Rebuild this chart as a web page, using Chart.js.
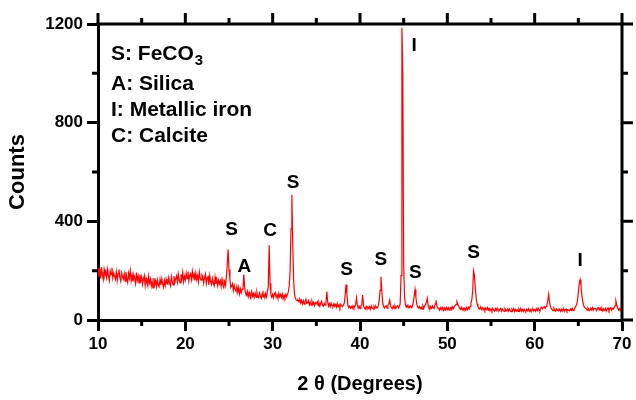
<!DOCTYPE html>
<html>
<head>
<meta charset="utf-8">
<script src="https://cdn.jsdelivr.net/npm/chart.js@4.4.0/dist/chart.umd.min.js"></script>
<style>
  html, body { margin: 0; padding: 0; background: #fff; }
</style>
</head>
<body>
<canvas id="myChart" width="636" height="400"></canvas>
<script>
// scan grid: 10.0 .. 70.0 deg, 0.1 deg step
var angleStart = 10;
var angleStep = 0.1;

// counts, one row per degree (x.0 .. x.9)
var counts = [
  212,176,198,168,215,183,164,205,180,196, // 10
  172,206,180,160,199,184,212,170,190,178, // 11
  165,196,160,189,205,172,158,192,176,166, // 12
  188,158,195,168,152,190,170,200,160,182, // 13
  155,185,168,148,192,160,178,150,184,160, // 14
  176,145,165,180,140,170,150,138,178,150, // 15
  166,138,156,130,170,144,160,135,162,142, // 16
  135,164,142,168,146,132,160,140,166,148, // 17
  145,172,150,138,176,156,142,178,152,168, // 18
  180,154,186,160,150,184,166,194,156,178, // 19
  162,190,168,196,158,182,188,164,198,170, // 20
  186,160,190,164,180,155,194,170,162,184, // 21
  178,150,172,186,148,170,176,142,180,156, // 22
  144,168,150,138,174,146,164,140,162,146, // 23
  160,136,165,142,132,156,140,175,225,286, // 24
  205,165,132,138,148,120,140,124,116,136, // 25
  112,132,106,126,110,124,130,185,128,108, // 26
  100,116,94,112,98,90,114,96,108,92,      // 27
  108,92,112,95,90,109,96,88,110,94,       // 28
  104,90,108,94,112,138,303,148,102,92,    // 29
  104,90,107,112,92,102,88,108,94,104,     // 30
  92,106,86,100,90,104,94,104,115,140,     // 31
  200,370,508,310,160,105,88,82,78,80,     // 32
  74,86,70,80,66,78,64,75,84,68,           // 33
  70,78,62,72,60,76,64,72,58,70,           // 34
  66,74,58,70,56,68,76,60,56,68,           // 35
  60,70,115,74,56,66,54,68,58,55,          // 36
  66,55,63,52,67,54,62,50,64,56,           // 37
  54,62,68,100,144,105,62,50,57,48,        // 38
  55,47,58,49,56,62,90,60,48,56,           // 39
  46,57,62,101,60,48,45,55,47,53,          // 40
  46,54,44,57,48,45,55,47,58,49,           // 41
  50,58,80,120,175,118,70,55,48,55,        // 42
  58,48,60,66,80,58,50,46,56,48,           // 43
  57,47,55,58,48,56,65,180,1185,1000,      // 44
  230,95,62,53,60,50,57,52,58,50,          // 45
  56,72,95,124,92,65,53,48,55,46,          // 46
  52,44,57,48,58,62,72,88,60,48,           // 47
  45,55,47,57,49,46,65,80,58,48,           // 48
  48,40,50,42,52,43,39,49,41,51,           // 49
  42,50,40,49,52,43,54,46,55,60,           // 50
  62,74,65,55,46,43,52,41,49,42,           // 51
  48,40,50,42,52,45,55,68,82,115,          // 52
  199,182,130,88,66,55,48,45,54,43,        // 53
  50,41,48,39,49,42,51,40,47,38,           // 54
  45,37,47,39,36,46,38,48,40,37,           // 55
  43,47,36,45,38,35,46,39,37,44,           // 56
  36,45,38,34,44,37,46,35,43,36,           // 57
  42,35,45,37,47,36,43,34,44,38,           // 58
  35,44,37,46,36,43,34,42,45,37,           // 59
  43,36,46,38,48,40,37,48,52,45,           // 60
  50,54,47,55,60,78,104,72,55,46,          // 61
  42,38,48,40,36,46,39,37,45,38,           // 62
  36,44,37,46,35,43,45,36,42,40,           // 63
  37,45,39,47,38,44,48,56,62,80,           // 64
  112,148,164,140,102,75,60,52,48,45,      // 65
  40,49,42,38,48,41,51,39,47,46,           // 66
  46,38,48,50,41,49,39,47,37,45,           // 67
  39,47,36,45,49,38,46,50,40,48,           // 68
  44,50,58,77,62,48,40,47,38,45,           // 69
  40                                       // 70
];

var xTicks = [10, 20, 30, 40, 50, 60, 70];
var xMinorTicks = [15, 25, 35, 45, 55, 65];
var yTicks = [0, 400, 800, 1200];
var yMinorTicks = [200, 600, 1000];

// phase key
var keyMain = ['S: FeCO', 'A: Silica', 'I: Metallic iron', 'C: Calcite'];
var keySub = ['3', '', '', ''];

// peak markers (angle, counts of the letter)
var peakLetters = ['S', 'A', 'C', 'S', 'S', 'S', 'I', 'S', 'S', 'I'];
var peakAngles = [25.3, 26.75, 29.7, 32.35, 38.45, 42.4, 46.19, 46.35, 53.0, 65.2];
var peakCounts = [365, 216, 362, 556, 203, 246, 1111, 192, 273, 240];

var points = counts.map(function (c, i) {
  return { x: +(angleStart + i * angleStep).toFixed(1), y: c };
});

var narrow = '"Liberation Sans Narrow", "Arial Narrow", "Liberation Sans", Arial, sans-serif';
var sans = '"Liberation Sans", Arial, sans-serif';

var decorations = {
  id: 'decorations',
  afterDraw: function (chart) {
    var ctx = chart.ctx;
    var a = chart.chartArea;
    var xs = chart.scales.x, ys = chart.scales.y;
    ctx.save();
    ctx.strokeStyle = '#000';
    ctx.lineWidth = 3;
    // top and right frame
    ctx.beginPath();
    ctx.moveTo(a.left - 1.5, a.top);
    ctx.lineTo(a.right, a.top);
    ctx.lineTo(a.right, a.bottom + 1.5);
    ctx.stroke();
    // ticks
    ctx.beginPath();
    xTicks.forEach(function (v) {
      var p = xs.getPixelForValue(v);
      ctx.moveTo(p, a.top); ctx.lineTo(p, a.top - 11);
    });
    xMinorTicks.forEach(function (v) {
      var p = xs.getPixelForValue(v);
      ctx.moveTo(p, a.top); ctx.lineTo(p, a.top - 6);
      ctx.moveTo(p, a.bottom); ctx.lineTo(p, a.bottom + 6);
    });
    yTicks.forEach(function (v) {
      var p = ys.getPixelForValue(v);
      ctx.moveTo(a.right, p); ctx.lineTo(a.right + 11, p);
    });
    yMinorTicks.forEach(function (v) {
      var p = ys.getPixelForValue(v);
      ctx.moveTo(a.right, p); ctx.lineTo(a.right + 6, p);
      ctx.moveTo(a.left, p); ctx.lineTo(a.left - 6, p);
    });
    ctx.stroke();

    // peak letters
    ctx.fillStyle = '#000';
    ctx.textAlign = 'center';
    ctx.textBaseline = 'middle';
    ctx.font = 'bold 19px ' + sans;
    peakLetters.forEach(function (t, i) {
      ctx.fillText(t, xs.getPixelForValue(peakAngles[i]), ys.getPixelForValue(peakCounts[i]));
    });

    // key
    ctx.textAlign = 'left';
    ctx.textBaseline = 'alphabetic';
    var lineY = [60, 90, 116, 142];
    keyMain.forEach(function (t, i) {
      ctx.font = 'bold 21px ' + sans;
      ctx.fillText(t, 111, lineY[i]);
      if (keySub[i]) {
        var w = ctx.measureText(t).width;
        ctx.font = 'bold 15px ' + sans;
        ctx.fillText(keySub[i], 111 + w + 1, lineY[i] + 5);
      }
    });
    ctx.restore();
  }
};

var ctx = document.getElementById('myChart');
var myChart = new Chart(ctx, {
  type: 'line',
  data: {
    datasets: [{
      data: points,
      borderColor: 'rgb(255,0,0)',
      borderWidth: 1.2,
      pointRadius: 0,
      fill: false,
      tension: 0
    }]
  },
  options: {
    responsive: false,
    animation: false,
    layout: { padding: { top: 24, right: 14, left: 0, bottom: 0 } },
    plugins: {
      legend: { display: false },
      tooltip: { enabled: false }
    },
    scales: {
      x: {
        type: 'linear',
        min: 10,
        max: 70,
        afterBuildTicks: function (s) { s.ticks = xTicks.map(function (v) { return { value: v }; }); },
        ticks: { color: '#000', padding: 3, maxRotation: 0, font: { family: narrow, size: 17, weight: 'bold' },
                 callback: function (v) { return String(v); } },
        grid: { drawOnChartArea: false, drawTicks: true, tickLength: 11, tickWidth: 3, tickColor: '#000' },
        border: { display: true, color: '#000', width: 3 },
        title: { display: true, text: '2 θ (Degrees)', color: '#000', padding: { top: 0, bottom: 4 },
                 font: { family: narrow, size: 20, weight: 'bold' } },
        afterFit: function (s) { s.height = 80; }
      },
      y: {
        min: 0,
        max: 1200,
        afterBuildTicks: function (s) { s.ticks = yTicks.map(function (v) { return { value: v }; }); },
        ticks: { color: '#000', padding: 4, font: { family: narrow, size: 17, weight: 'bold' },
                 callback: function (v) { return String(v); } },
        grid: { drawOnChartArea: false, drawTicks: true, tickLength: 11, tickWidth: 3, tickColor: '#000' },
        border: { display: true, color: '#000', width: 3 },
        title: { display: true, text: 'Counts', color: '#000', padding: { top: 5, bottom: 0 },
                 font: { family: sans, size: 22, weight: 'bold' } },
        afterFit: function (s) { s.width = 98; }
      }
    }
  },
  plugins: [decorations]
});
</script>
</body>
</html>
